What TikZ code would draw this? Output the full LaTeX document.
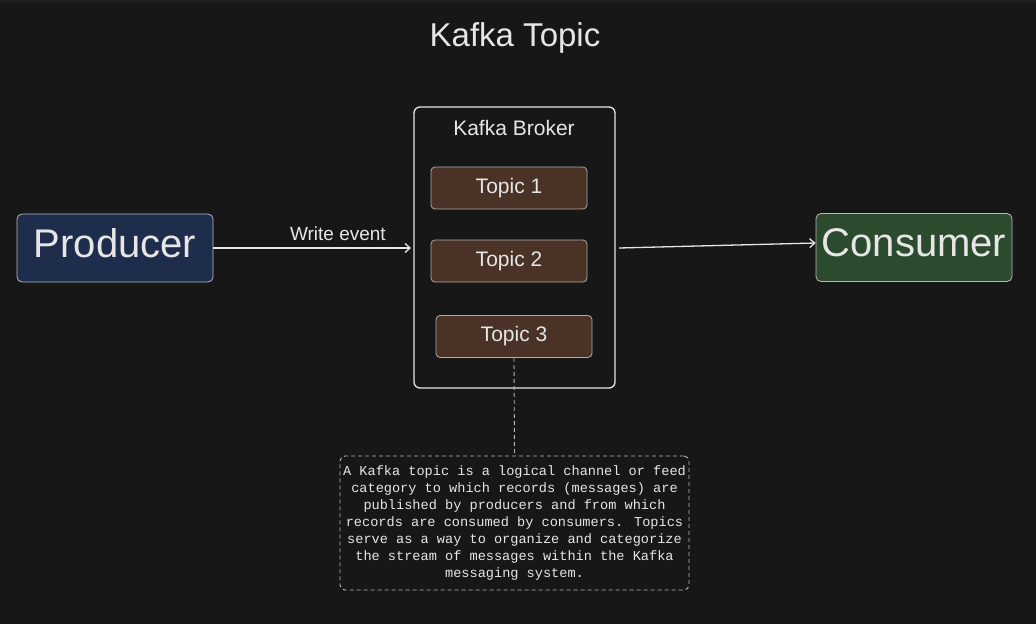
\documentclass[tikz,border=0pt]{standalone}
\usepackage{fontspec}
\setmainfont{Liberation Sans}
\newfontfamily\notefont{Liberation Mono}
\usetikzlibrary{arrows.meta}
\definecolor{bg}{HTML}{171717}
\definecolor{topbar}{HTML}{1F1F1F}
\definecolor{fg}{HTML}{E6E6E6}
\definecolor{stroke}{HTML}{D8D8D8}
\definecolor{topicfill}{HTML}{4A3326}
\definecolor{prodfill}{HTML}{1F2D4C}
\definecolor{consfill}{HTML}{2C4A2D}
\tikzset{
  x=1pt,y=-1pt,
  txt/.style={text=fg,inner sep=0pt},
  topicbox/.style={draw=stroke!80!black,fill=topicfill,rounded corners=4pt,line width=0.8pt,minimum width=156pt,minimum height=42pt,text=fg,font=\fontsize{21}{24}\selectfont},
  endbox/.style={draw=stroke!85!black,rounded corners=5pt,line width=0.8pt,minimum width=196pt,minimum height=68pt,text depth=9pt,text=fg,font=\fontsize{40}{44}\selectfont},
  conn/.style={draw=fg,line width=1.3pt,-{Straight Barb[length=5pt,width=9pt]}},
}
\begin{document}
\begin{tikzpicture}
\fill[bg] (0,0) rectangle (1036,624);
\fill[topbar] (0,0) rectangle (1036,3);
\useasboundingbox (0,0) rectangle (1036,624);
\node[txt,font=\fontsize{33}{37}\selectfont] (title) at (515,38) {Kafka Topic};
\node[draw=fg,line width=1.3pt,rounded corners=6pt,minimum width=201pt,minimum height=281pt] (broker) at (514.5,247.5) {};
\node[txt,font=\fontsize{21}{24}\selectfont] (blabel) at (514,128) {Kafka Broker};
\node[topicbox] (t1) at (509,188) {Topic 1};
\node[topicbox] (t2) at (509,261) {Topic 2};
\node[topicbox] (t3) at (514,336.5) {Topic 3};
\node[endbox,fill=prodfill] (prod) at (115,248) {Producer};
\node[endbox,fill=consfill] (cons) at (914,247.5) {Consumer};
\coordinate (bin) at (411,248);
\coordinate (bout) at (619,248);
\draw[conn] (prod.east) -- node[txt,above=7pt,pos=0.63,font=\fontsize{19}{22}\selectfont] (we) {Write event} (bin);
\draw[conn] (bout) -- ([yshift=4.5pt]cons.west);
\node[draw=stroke!85!black,dash pattern=on 4pt off 3pt,line width=0.9pt,rounded corners=5pt,minimum width=349pt,minimum height=134pt,align=center,text=fg,font=\notefont\fontsize{13.6}{17}\selectfont,inner sep=0pt] (note) at (514.5,523) {A Kafka topic is a logical channel or feed\\category to which records (messages) are\\published by producers and from which\\records are consumed by consumers. Topics\\serve as a way to organize and categorize\\the stream of messages within the Kafka\\messaging system.};
\draw[draw=stroke!85!black,dash pattern=on 4pt off 3pt,line width=0.9pt] (t3.south) -- (note.north);
\end{tikzpicture}
\end{document}
